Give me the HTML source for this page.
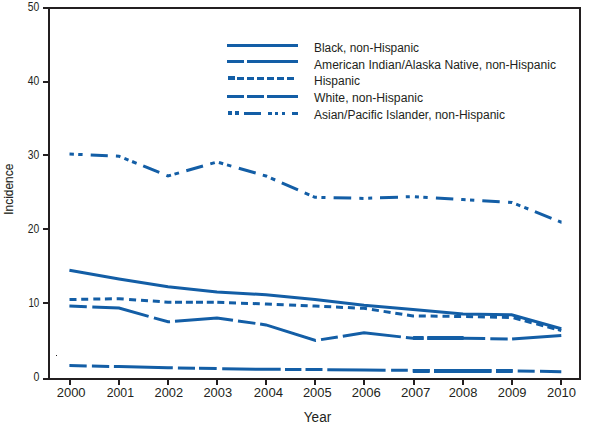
<!DOCTYPE html>
<html><head><meta charset="utf-8"><style>
html,body{margin:0;padding:0;background:#fff;width:594px;height:425px;overflow:hidden}
svg{display:block}
text{font-family:"Liberation Sans",sans-serif;fill:#231f20}
</style></head><body>
<svg width="594" height="425" viewBox="0 0 594 425">
<rect width="594" height="425" fill="#fff"/>

<g fill="#231f20" shape-rendering="crispEdges">
<rect x="48" y="7" width="2" height="373"/>
<rect x="43" y="7" width="538" height="2"/>
<rect x="579" y="7" width="2" height="373"/>
<rect x="43" y="378" width="538" height="2"/>
<rect x="43" y="81" width="5" height="2"/>
<rect x="43" y="154" width="5" height="2"/>
<rect x="43" y="228" width="5" height="2"/>
<rect x="43" y="302" width="5" height="2"/>
<rect x="69" y="380" width="2" height="5"/>
<rect x="118" y="380" width="2" height="5"/>
<rect x="167" y="380" width="2" height="5"/>
<rect x="216" y="380" width="2" height="5"/>
<rect x="265" y="380" width="2" height="5"/>
<rect x="314" y="380" width="2" height="5"/>
<rect x="363" y="380" width="2" height="5"/>
<rect x="413" y="380" width="2" height="5"/>
<rect x="462" y="380" width="2" height="5"/>
<rect x="511" y="380" width="2" height="5"/>
<rect x="560" y="380" width="2" height="5"/>
</g>
<text x="39.3" y="11" font-size="12.6" text-anchor="end" textLength="11.5" lengthAdjust="spacingAndGlyphs">50</text>
<text x="39.3" y="85" font-size="12.6" text-anchor="end" textLength="11.5" lengthAdjust="spacingAndGlyphs">40</text>
<text x="39.3" y="159" font-size="12.6" text-anchor="end" textLength="11.5" lengthAdjust="spacingAndGlyphs">30</text>
<text x="39.3" y="233" font-size="12.6" text-anchor="end" textLength="11.5" lengthAdjust="spacingAndGlyphs">20</text>
<text x="39.3" y="307" font-size="12.6" text-anchor="end" textLength="10.9" lengthAdjust="spacingAndGlyphs">10</text>
<text x="39.3" y="381" font-size="12.6" text-anchor="end" textLength="5.9" lengthAdjust="spacingAndGlyphs">0</text>
<text x="71.15" y="396.8" font-size="12.3" text-anchor="middle" textLength="28.90" lengthAdjust="spacingAndGlyphs">2000</text>
<text x="120.35" y="396.8" font-size="12.3" text-anchor="middle" textLength="27.30" lengthAdjust="spacingAndGlyphs">2001</text>
<text x="168.80" y="396.8" font-size="12.3" text-anchor="middle" textLength="28.60" lengthAdjust="spacingAndGlyphs">2002</text>
<text x="217.75" y="396.8" font-size="12.3" text-anchor="middle" textLength="28.70" lengthAdjust="spacingAndGlyphs">2003</text>
<text x="268.40" y="396.8" font-size="12.3" text-anchor="middle" textLength="29.20" lengthAdjust="spacingAndGlyphs">2004</text>
<text x="317.25" y="396.8" font-size="12.3" text-anchor="middle" textLength="28.70" lengthAdjust="spacingAndGlyphs">2005</text>
<text x="366.35" y="396.8" font-size="12.3" text-anchor="middle" textLength="29.10" lengthAdjust="spacingAndGlyphs">2006</text>
<text x="415.65" y="396.8" font-size="12.3" text-anchor="middle" textLength="29.50" lengthAdjust="spacingAndGlyphs">2007</text>
<text x="463.05" y="396.8" font-size="12.3" text-anchor="middle" textLength="28.70" lengthAdjust="spacingAndGlyphs">2008</text>
<text x="512.15" y="396.8" font-size="12.3" text-anchor="middle" textLength="28.70" lengthAdjust="spacingAndGlyphs">2009</text>
<text x="561.45" y="396.8" font-size="12.3" text-anchor="middle" textLength="29.00" lengthAdjust="spacingAndGlyphs">2010</text>
<text x="317.5" y="421.6" font-size="14" text-anchor="middle" textLength="27.4" lengthAdjust="spacingAndGlyphs">Year</text>
<text transform="translate(13,189.2) rotate(-90)" font-size="13" text-anchor="middle" stroke="#231f20" stroke-width="0.1" textLength="51" lengthAdjust="spacingAndGlyphs">Incidence</text>
<g fill="none" stroke="#135ea6" stroke-width="3" stroke-linejoin="miter" stroke-linecap="butt">
<polyline points="69.4,270.3 119,279.0 168,286.7 217,291.9 266,294.8 315,299.51363636363635 364,305.1363636363636 413,309.6 463,314.1 511.6,314.7 561.3,328.8"/>
<path d="M69.50,299.50 L76.50,299.39 M81.20,299.31 L88.20,299.20 M93.30,299.11 L100.30,299.00 M104.90,298.93 L111.90,298.81 M116.70,298.74 L119.00,298.70 L123.70,299.04 M129.10,299.42 L136.10,299.92 M141.00,300.27 L148.00,300.77 M152.80,301.11 L159.80,301.61 M164.40,301.94 L168.00,302.20 L171.40,302.21 M175.00,302.21 L182.00,302.23 M185.90,302.24 L192.90,302.25 M196.00,302.26 L203.00,302.27 M206.80,302.28 L213.80,302.29 M217.30,302.31 L224.30,302.55 M229.00,302.72 L236.00,302.96 M241.00,303.13 L248.00,303.38 M252.80,303.54 L259.80,303.78 M264.90,303.96 L266.00,304.00 L271.90,304.25 M276.70,304.46 L283.70,304.76 M289.10,305.00 L296.10,305.30 M300.70,305.50 L307.70,305.80 M312.50,306.01 L315.00,306.11 L319.50,306.32 M324.20,306.53 L331.20,306.85 M336.00,307.07 L343.00,307.38 M347.90,307.61 L354.90,307.92 M360.00,308.15 L364.00,308.34 L367.00,308.80 M371.90,309.56 L378.90,310.64 M383.60,311.36 L390.60,312.44 M395.30,313.17 L402.30,314.25 M407.00,314.97 L413.00,315.90 L414.00,315.91 M418.80,315.97 L425.80,316.05 M430.60,316.11 L437.60,316.20 M442.50,316.25 L449.50,316.34 M454.10,316.39 L461.10,316.48 M466.10,316.56 L473.10,316.71 M477.90,316.80 L484.90,316.95 M490.00,317.05 L497.00,317.19 M501.90,317.29 L508.90,317.44 M513.60,317.92 L520.60,319.77 M524.70,320.85 L531.70,322.69 M536.30,323.91 L543.30,325.75 M547.40,326.83 L554.40,328.68 M558.00,329.63 L561.30,330.50"/>
<path d="M69.40,306.00 L86.80,306.70 M92.30,306.92 L119.00,308.00 L148.60,316.34 M153.90,317.83 L168.00,321.80 L170.00,321.64 M175.00,321.24 L217.00,317.90 L233.00,320.19 M238.00,320.90 L255.40,323.39 M260.10,324.06 L266.00,324.90 L315.50,340.50 L315.90,340.44 M321.00,339.63 L337.80,336.96 M342.80,336.17 L364.00,332.80 L400.90,336.87 M405.90,337.42 L413.00,338.20 L423.60,338.22 M427.30,338.23 L463.00,338.30 L485.20,338.62 M490.30,338.69 L507.70,338.94 M512.10,338.99 L561.30,335.50"/>
<path d="M69.40,365.60 L86.70,365.95 M91.90,366.05 L109.20,366.40 M113.90,366.50 L119.00,366.60 L168.00,367.70 L172.80,367.79 M177.90,367.88 L195.00,368.20 M199.00,368.27 L216.70,368.59 M222.20,368.67 L266.00,369.30 L280.70,369.36 M285.00,369.38 L301.40,369.44 M305.50,369.46 L315.00,369.50 L322.50,369.58 M327.30,369.63 L364.00,370.00 L385.60,370.18 M391.10,370.22 L407.80,370.36 M412.80,370.40 L413.00,370.40 L429.70,370.47 M434.00,370.48 L463.00,370.60 L491.50,370.72 M496.00,370.73 L512.00,370.80 L512.70,370.81 M517.70,370.92 L534.70,371.26 M540.00,371.37 L561.30,371.80"/>
<path d="M69.50,154.00 L73.90,154.20 M78.20,154.39 L82.60,154.59 M90.70,154.94 L107.80,155.70 M115.90,156.06 L119.00,156.20 L120.40,156.77 M124.40,158.38 L128.50,160.04 M132.10,161.49 L136.60,163.31 M143.20,165.98 L159.30,172.48 M166.40,175.35 L168.00,176.00 L171.00,175.14 M174.50,174.14 L179.00,172.86 M186.30,170.77 L203.00,166.00 M210.30,163.91 L214.80,162.63 M218.90,162.54 L223.20,163.77 M227.00,164.86 L231.30,166.09 M238.80,168.23 L255.70,173.06 M262.80,175.09 L266.00,176.00 L267.10,176.48 M270.90,178.13 L275.20,180.00 M281.80,182.87 L298.00,189.91 M304.70,192.82 L309.30,194.82 M312.80,196.34 L315.00,197.30 L316.90,197.34 M321.40,197.44 L325.50,197.54 M333.60,197.72 L351.20,198.11 M359.30,198.29 L363.50,198.39 M368.20,198.25 L372.20,198.10 M380.00,197.81 L398.00,197.15 M405.80,196.86 L409.80,196.72 M414.90,196.71 L418.90,196.94 M423.30,197.20 L427.70,197.45 M435.90,197.93 L453.30,198.94 M461.20,199.40 L463.00,199.50 L465.60,199.66 M470.00,199.93 L474.30,200.19 M482.30,200.68 L499.70,201.75 M508.10,202.26 L512.00,202.50 L512.20,202.58 M516.20,204.18 L520.30,205.82 M524.30,207.42 L528.30,209.01 M534.90,211.65 L551.50,218.28 M558.00,220.88 L561.30,222.20 L561.50,222.20"/>
<path d="M412.8,371 L429.7,371 M434,371 L491.5,371 M496,371 L512.7,371" stroke-width="4"/>
<path d="M413.1,338 L423.6,338 M427.3,338 L463.6,338" stroke-width="4"/>
</g>
<g fill="#135ea6" shape-rendering="crispEdges">
<rect x="227" y="44" width="71" height="3"/>
<rect x="227" y="60" width="17" height="3"/><rect x="247" y="60" width="51" height="3"/>
<rect x="228" y="76" width="7" height="4"/>
<rect x="237" y="77" width="7" height="3"/>
<rect x="247" y="77" width="7" height="3"/>
<rect x="257" y="77" width="7" height="3"/>
<rect x="267" y="77" width="7" height="3"/>
<rect x="277" y="77" width="7" height="3"/>
<rect x="287" y="77" width="7" height="3"/>
<rect x="227" y="95" width="17" height="3"/><rect x="247" y="95" width="17" height="3"/><rect x="267" y="95" width="31" height="3"/>
<rect x="228" y="111" width="4" height="4"/><rect x="235" y="111" width="4" height="4"/><rect x="244" y="112" width="17" height="3"/>
<rect x="268" y="112" width="4" height="3"/><rect x="275" y="112" width="3" height="3"/><rect x="282" y="112" width="3" height="3"/><rect x="292" y="112" width="6" height="3"/>
</g>
<text x="314" y="51.8" font-size="12.3" textLength="105" lengthAdjust="spacingAndGlyphs">Black, non-Hispanic</text>
<text x="314" y="68.6" font-size="12.3" textLength="242" lengthAdjust="spacingAndGlyphs">American Indian/Alaska Native, non-Hispanic</text>
<text x="314" y="84.9" font-size="12.3" textLength="46" lengthAdjust="spacingAndGlyphs">Hispanic</text>
<text x="314" y="101.6" font-size="12.3" textLength="109" lengthAdjust="spacingAndGlyphs">White, non-Hispanic</text>
<text x="314" y="118.5" font-size="12.3" textLength="191" lengthAdjust="spacingAndGlyphs">Asian/Pacific Islander, non-Hispanic</text>
<rect x="56" y="355" width="1" height="1" fill="#231f20"/>
</svg></body></html>
